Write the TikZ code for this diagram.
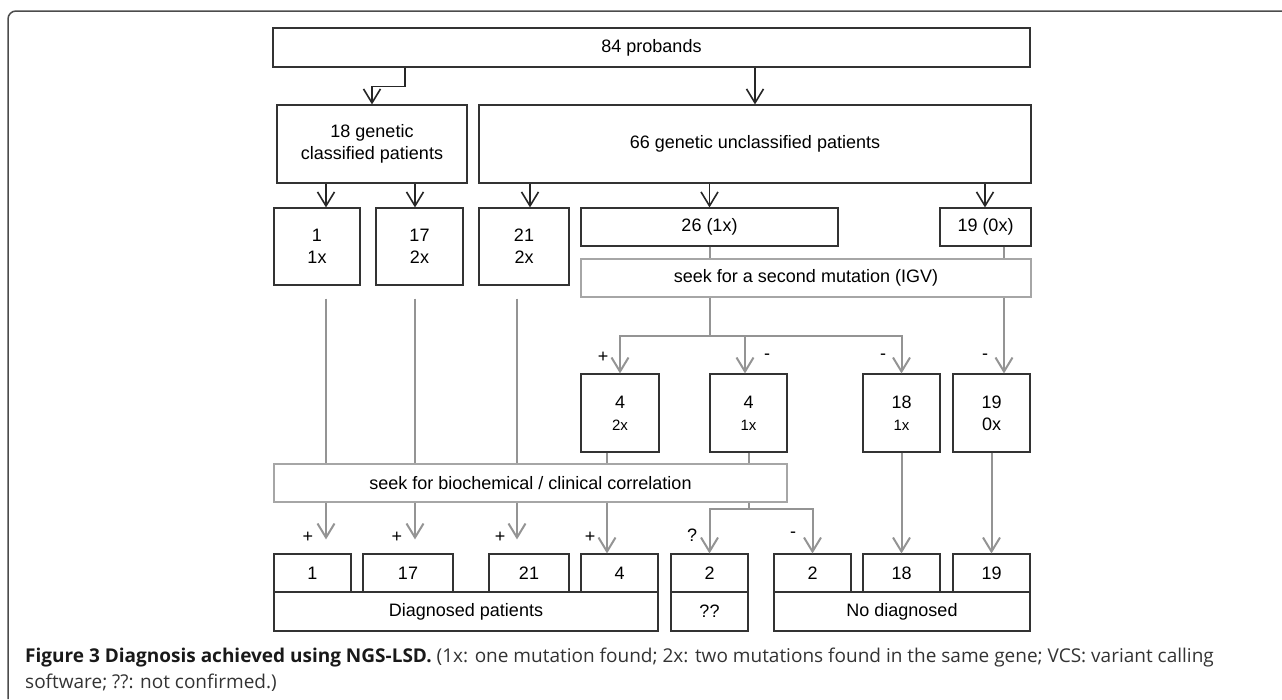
\documentclass[tikz,border=0pt]{standalone}
\usepackage{fontspec}
\setmainfont{Liberation Sans}
\newfontfamily\capfont{Open Sans}
\usetikzlibrary{arrows.meta,calc}
\newcommand\sm{\fontsize{15}{18}\selectfont}
\tikzset{
  sz/.style 2 args={minimum width=#1,minimum height=#2},
  box/.style={draw=black!80,line width=1.1pt,inner sep=0pt,align=center,
    font=\fontsize{18}{22}\selectfont},
  gbox/.style={box,draw=black!35},
  dk/.style={draw=black!85,line width=1.6pt},
  gr/.style={draw=black!42,line width=2pt},
  sgn/.style={inner sep=0pt,font=\fontsize{18}{18}\selectfont},
  captext/.style={anchor=base west,inner sep=0pt,text=black!80,
    font=\capfont\fontsize{19}{26}\selectfont}}

\begin{document}
\begin{tikzpicture}[x=1pt,y=-1pt,>={Straight Barb[length=14pt,width=17pt]}]
\useasboundingbox (0,0) rectangle (1282,699);
\draw[black!70,line width=1.5pt,rounded corners=8pt] (1282,11) -- (8,11) -- (8,699);

\node[box,sz={757}{39}] (prob) at (651.5,47.5) {84 probands};
\node[box,sz={190}{78}] (cls) at (372,144) {18 genetic\\classified patients};
\node[box,sz={552}{78}] (uncl) at (755,144) {66 genetic unclassified patients};

\node[box,sz={86}{77}] (a1) at (317,246.5) {1\\1x};
\node[box,sz={87}{77}] (a17) at (419.5,246.5) {17\\2x};
\node[box,sz={90}{77}] (a21) at (524,246.5) {21\\2x};
\node[box,sz={257}{38}] (a26) at (709.5,227) {26 (1x)};
\node[box,sz={91}{38}] (a19) at (985.5,227) {19 (0x)};
\node[gbox,sz={450}{38}] (igv) at (806,278) {seek for a second mutation (IGV)};

\node[box,sz={78}{78}] (b4p) at (620,413) {4\\{\sm 2x}};
\node[box,sz={77}{78}] (b4m) at (748.5,413) {4\\{\sm 1x}};
\node[box,sz={77}{78}] (b18) at (901.5,413) {18\\{\sm 1x}};
\node[box,sz={77}{78}] (b19) at (991.5,413) {19\\0x};
\node[gbox,sz={513}{38}] (bio) at (530.5,483) {seek for biochemical / clinical correlation};

\node[box,sz={77}{38}] (c1) at (312.5,573) {1};
\node[box,sz={90}{38}] (c17) at (408,573) {17};
\node[box,sz={80}{38}] (c21) at (529,573) {21};
\node[box,sz={77}{38}] (c4) at (619.5,573) {4};
\node[box,sz={77}{38}] (c2q) at (709.5,573) {2};
\node[box,sz={77}{38}] (c2m) at (812.5,573) {2};
\node[box,sz={77}{38}] (c18) at (901.5,573) {18};
\node[box,sz={77}{38}] (c19) at (991.5,573) {19};
\node[box,sz={384}{39}] (diag) at (466,611.5) {Diagnosed patients};
\node[box,sz={77}{39}] (unk) at (709.5,611.5) {??};
\node[box,sz={256}{39}] (nodiag) at (902,611.5) {No diagnosed};

\foreach \n/\x in {kp/405,k1/326,k2/415,k3/530,kg/517,k5/985,k6/1004,k7/607,k8/745}
  \coordinate (\n) at (\x,0);

\draw[dk,->] (prob.south -| kp) -- ++(0,19) -| (cls.north);
\draw[dk,->] (prob.south -| uncl.north) -- (uncl.north);
\draw[dk,->] (cls.south -| k1) -- (a1.north -| k1);
\draw[dk,->] (cls.south -| k2) -- (a17.north -| k2);
\foreach \c/\n in {k3/a21,a26/a26,k5/a19}
  \draw[dk,->] (uncl.south -| \c) -- (\n.north -| \c);

\draw[gr] (a26.south) -- (igv.north -| a26.south);
\draw[gr] (a19.south -| k6) -- (igv.north -| k6);
\draw[gr] (igv.south -| a26.south) -- ++(0,38) coordinate (split1);
\draw[gr,->] (split1) -| (b4p.north);
\draw[gr,->] (split1) -| (b18.north);
\draw[gr,->] (split1 -| k8) -- (b4m.north -| k8);
\draw[gr,->] (igv.south -| k6) -- (b19.north -| k6);

\foreach \c/\n/\m in {k1/a1/c1,k2/a17/c17,kg/a21/c21}
{\draw[gr,shorten <=13pt] (\n.south -| \c) -- (bio.north -| \c);
 \draw[gr,->,shorten >=14pt] (bio.south -| \c) -- (\m.north -| \c);}
\draw[gr] (b4p.south -| k7) -- (bio.north -| k7);
\draw[gr,->] (bio.south -| k7) -- (c4.north -| k7);
\draw[gr] (b4m.south) -- (bio.north -| b4m.south);
\draw[gr] (bio.south -| b4m.south) -- ++(0,6.5) coordinate (split2);
\draw[gr,->] (split2) -| (c2q.north);
\draw[gr,->] (split2) -| (c2m.north);
\draw[gr,->] (b18.south) -- (c18.north);
\draw[gr,->] (b19.south) -- (c19.north);

\foreach \n/\x/\y/\s in {s1/603/357/+,s2/767/357/-,s3/883/357/-,s4/985/357/-,
  s5/308/537/+,s6/397/537/+,s7/500/537/+,s8/590/537/+,s9/692/535/?,s10/793/535/-}
  \node[sgn] (\n) at (\x,\y) {\s};

\node[captext] (cap1) at (25,662)
  {\textbf{\color{black!90}Figure 3 Diagnosis achieved using NGS-LSD.} (1x: one mutation found; 2x: two mutations found in the same gene; VCS: variant calling};
\node[captext] (cap2) at (25,688) {software; ??: not confirmed.)};
\end{tikzpicture}
\end{document}
